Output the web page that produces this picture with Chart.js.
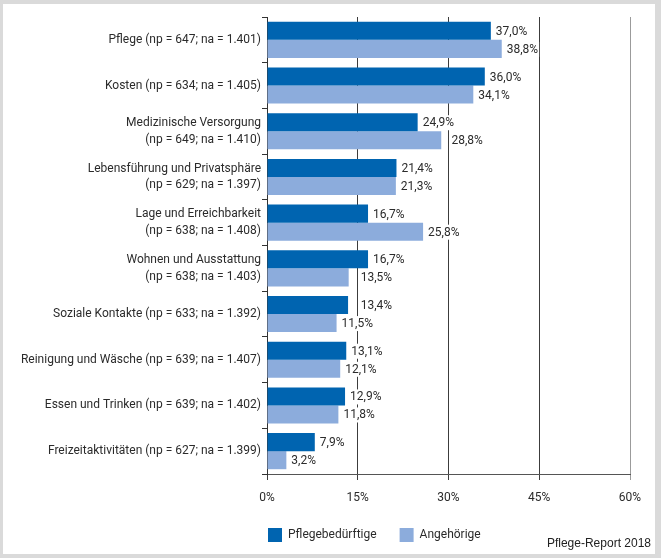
<!DOCTYPE html>
<html>
<head>
<meta charset="utf-8">
<script src="https://cdn.jsdelivr.net/npm/chart.js@4.4.1/dist/chart.umd.min.js"></script>
<style>
  html, body { margin: 0; padding: 0; }
  body { width: 661px; height: 558px; background: #dadada; position: relative; overflow: hidden; }
  #panel { position: absolute; left: 3px; top: 4px; width: 652px; height: 550px; background: #fff; }
  #chart { display: block; }
  #source { position: absolute; right: 10px; top: 536px; line-height: 14px; font: 12px 'Liberation Sans', Arial, sans-serif; color: #222; }
</style>
</head>
<body>
<div id="panel"><canvas id="chart" width="652" height="550"></canvas></div>
<div id="source">Pflege-Report 2018</div>
<script>
const categories = [
  'Pflege (np = 647; na = 1.401)',
  'Kosten (np = 634; na = 1.405)',
  ['Medizinische Versorgung', '(np = 649; na = 1.410)'],
  ['Lebensführung und Privatsphäre', '(np = 629; na = 1.397)'],
  ['Lage und Erreichbarkeit', '(np = 638; na = 1.408)'],
  ['Wohnen und Ausstattung', '(np = 638; na = 1.403)'],
  'Soziale Kontakte (np = 633; na = 1.392)',
  'Reinigung und Wäsche (np = 639; na = 1.407)',
  'Essen und Trinken (np = 639; na = 1.402)',
  'Freizeitaktivitäten (np = 627; na = 1.399)'
]
const pflegebeduerftige = [37.0, 36.0, 24.9, 21.4, 16.7, 16.7, 13.4, 13.1, 12.9, 7.9]
const angehoerige = [38.8, 34.1, 28.8, 21.3, 25.8, 13.5, 11.5, 12.1, 11.8, 3.2]
const xTicks = [0, 15, 30, 45, 60]

const fontFamily = 'Roboto, sans-serif'
const textColor = '#2b2b2b'

// Werte rechts neben die Balken schreiben (weiß hinterlegt)
const valueLabels = {
  id: 'valueLabels',
  afterLayout(chart) {
    // Legende unter der Plotfläche beginnen lassen
    chart.legend.left = 242
  },
  afterDatasetsDraw(chart) {
    const ctx = chart.ctx
    const xScale = chart.scales.x
    const gridX = xTicks.map(v => xScale.getPixelForValue(v))
    ctx.save()
    ctx.font = '12px ' + fontFamily
    ctx.textAlign = 'left'
    ctx.textBaseline = 'middle'
    chart.data.datasets.forEach((ds, i) => {
      chart.getDatasetMeta(i).data.forEach((bar, j) => {
        const txt = ds.data[j].toFixed(1).replace('.', ',') + '%'
        let x = bar.x + 5
        // nicht direkt auf eine Gitterlinie setzen
        for (const g of gridX) {
          if (g > bar.x + 1 && g >= x - 1 && g <= x + 5) x = g + 3
        }
        const w = ctx.measureText(txt).width
        ctx.fillStyle = '#fff'
        ctx.fillRect(x - 1, bar.y - 7, w + 2, 15)
        ctx.fillStyle = textColor
        ctx.fillText(txt, x, bar.y + 1)
      })
    })
    ctx.restore()
  }
}

new Chart(document.getElementById('chart'), {
  type: 'bar',
  data: {
    labels: categories,
    datasets: [
      { label: 'Pflegebedürftige', data: pflegebeduerftige, backgroundColor: '#0064b0', borderWidth: 0, categoryPercentage: 0.79, barPercentage: 1 },
      { label: 'Angehörige', data: angehoerige, backgroundColor: '#8cacdc', borderWidth: 0, categoryPercentage: 0.79, barPercentage: 1 }
    ]
  },
  options: {
    indexAxis: 'y',
    responsive: false,
    animation: false,
    layout: { padding: { left: 0, right: 25, top: 13, bottom: 2 } },
    plugins: {
      legend: {
        position: 'bottom',
        align: 'start',
        labels: { boxWidth: 14, boxHeight: 14, padding: 23, color: textColor, font: { family: fontFamily, size: 12 } }
      },
      tooltip: { enabled: false }
    },
    scales: {
      x: {
        min: 0,
        max: 60,
        afterBuildTicks(scale) { scale.ticks = xTicks.map(v => ({ value: v })) },
        afterFit(scale) { scale.height = 31 },
        ticks: { callback: v => v + '%', padding: 11, color: textColor, font: { family: fontFamily, size: 12 } },
        grid: { color: c => c.index === 4 ? '#9b9b9b' : '#3c3c3c', tickLength: 6, lineWidth: 1 },
        border: { color: '#555' }
      },
      y: {
        afterFit(scale) { scale.width = 264 },
        ticks: { padding: 1, autoSkip: false, color: textColor, font: { family: fontFamily, size: 12, lineHeight: 1.4 } },
        grid: { drawOnChartArea: false, tickLength: 5, color: '#333', offset: true },
        border: { color: '#333' }
      }
    }
  },
  plugins: [valueLabels]
})
</script>
</body>
</html>
